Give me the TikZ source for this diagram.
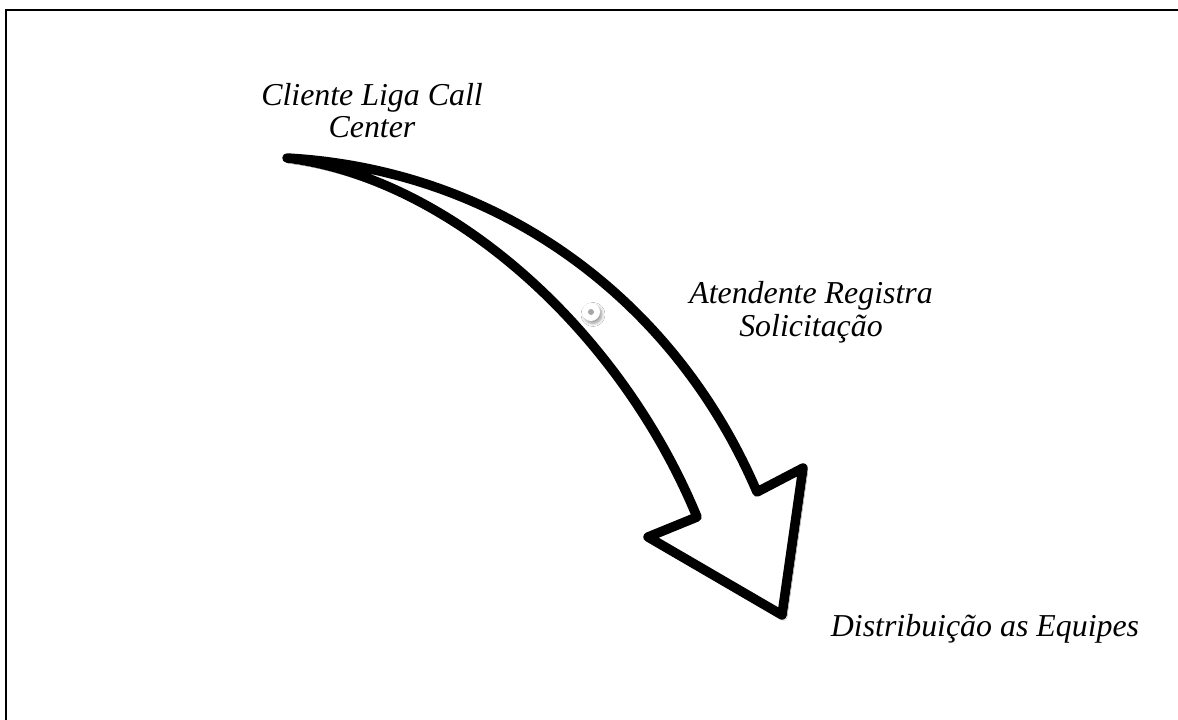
\documentclass[tikz,border=0pt]{standalone}
\usepackage{fontspec}
\setmainfont{Liberation Serif}
\usetikzlibrary{shadows.blur}
\begin{document}
\begin{tikzpicture}[x=1bp,y=-1bp,
  caption/.style={font=\fontsize{32}{33}\selectfont\itshape, align=center, inner sep=0pt, anchor=base},
  softshadow/.style={blur shadow={shadow xshift=2pt, shadow yshift=-2.5pt, shadow blur steps=6, shadow blur radius=3pt, shadow opacity=40}},
  bigarrow/.style={draw=black, line width=9.5bp, line join=round, line cap=round, fill=white, softshadow}]
\useasboundingbox (0,0) rectangle (1178,720);
\fill[white] (0,0) rectangle (1178,720);
% page frame (only the top and left edges fall inside the sheet)
\draw[line width=2bp] (6,720) -- (6,10) -- (1178,10);
% curved block arrow
\path[bigarrow] (287,158)
  .. controls (500,170) and (675,300) .. (757,492)
  -- (803,468) -- (782,615) -- (648,537) -- (697,517)
  .. controls (620,330) and (450,178) .. (287,158) -- cycle;
% small handle on the shaft
\node[circle, fill=white, minimum size=18bp, inner sep=0pt, softshadow] (handle) at (591,312) {};
\fill[gray!70] (handle.center) circle (3bp);
% captions (anchored on the baseline of their last line)
\node[caption] (client) at (372,138) {Cliente Liga Call\\Center};
\node[caption] (agent) at (811,336) {Atendente Registra\\Solicitação};
\node[caption] (teams) at (985,636) {Distribuição as Equipes};
\end{tikzpicture}
\end{document}
